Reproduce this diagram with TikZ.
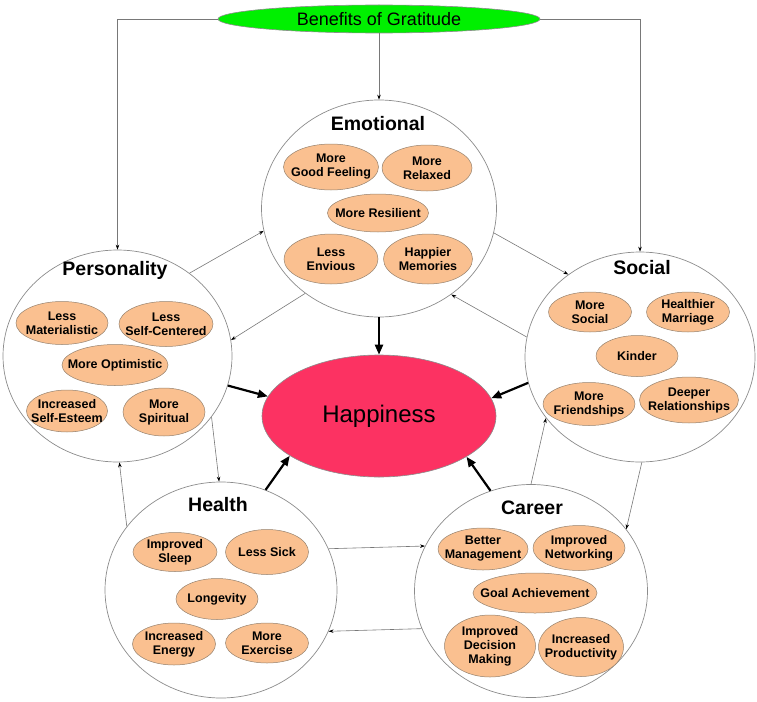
\documentclass[tikz,border=0pt]{standalone}
\usepackage{fontspec}
\setmainfont{Liberation Sans}
\usetikzlibrary{shapes.geometric,arrows.meta}
\definecolor{peach}{RGB}{250,192,144}
\definecolor{peachedge}{RGB}{150,130,110}
\definecolor{happy}{RGB}{252,50,98}
\definecolor{gratgreen}{RGB}{0,240,0}
\definecolor{edgegray}{RGB}{140,140,140}
\definecolor{linkgray}{RGB}{120,120,120}
\tikzset{
  bigshape/.style={ellipse, draw=edgegray, line width=0.7pt, fill=white, inner sep=0pt},
  subshape/.style={ellipse, draw=peachedge, line width=0.5pt, fill=peach, inner sep=0pt},
  subtext/.style={font=\fontsize{12.5}{14}\selectfont\bfseries, align=center, inner sep=0pt},
  titletext/.style={font=\fontsize{19.5}{22}\selectfont\bfseries, inner sep=0pt},
  thinlink/.style={draw=linkgray, line width=0.6pt, -{Stealth[length=5pt,width=3.5pt,color=black]}},
  thicklink/.style={draw=black, line width=2.2pt, -{Triangle[length=10pt,width=8pt]}},
}
\newcommand\subell[6]{%
  \node[subshape, minimum width=#4pt, minimum height=#5pt] (#1) at (#2,#3) {};
  \node[subtext] (#1t) at (#1) {#6};
}
\begin{document}
\begin{tikzpicture}[x=1pt,y=-1pt]
\useasboundingbox (0,0) rectangle (757,701);
% top
\node[ellipse, draw=edgegray, line width=0.6pt, fill=gratgreen, minimum width=322pt, minimum height=28pt, inner sep=0pt] (ben) at (379,19) {};
\node[font=\fontsize{18}{20}\selectfont, inner sep=0pt] (bent) at (ben) {Benefits of Gratitude};
% big circles
\node[bigshape, minimum width=235pt, minimum height=217pt] (emo) at (379,208.5) {};
\node[bigshape, minimum width=229pt, minimum height=212pt] (per) at (117.5,356) {};
\node[bigshape, minimum width=230pt, minimum height=210pt] (soc) at (640,357) {};
\node[bigshape, minimum width=232pt, minimum height=216pt] (hea) at (221,590) {};
\node[bigshape, minimum width=233pt, minimum height=213pt] (car) at (531,591) {};
% happiness
\node[ellipse, draw=edgegray, line width=0.6pt, fill=happy, minimum width=234pt, minimum height=122pt, inner sep=0pt] (hap) at (379,416) {};
\node[font=\fontsize{24}{26}\selectfont, inner sep=0pt] (hapt) at (hap) {Happiness};
% titles
\node[titletext] (emot) at (378,124) {Emotional};
\node[titletext] (pert) at (115,270) {Personality};
\node[titletext] (soct) at (642,268) {Social};
\node[titletext] (heat) at (218,505) {Health};
\node[titletext] (cart) at (532,508) {Career};
% emotional
\subell{e1}{331}{167}{95}{46}{More\\Good Feeling}
\subell{e2}{427}{168}{90}{46}{More\\Relaxed}
\subell{e3}{378}{213}{101}{38}{More Resilient}
\subell{e4}{331}{259}{94}{50}{Less\\Envious}
\subell{e5}{428}{259}{89}{50}{Happier\\Memories}
% personality
\subell{p1}{62}{323}{92}{43}{Less\\Materialistic}
\subell{p2}{166}{324}{94}{45}{Less\\Self-Centered}
\subell{p3}{115}{365}{106}{41}{More Optimistic}
\subell{p4}{67}{411}{81}{42}{Increased\\Self-Esteem}
\subell{p5}{164}{412}{82}{48}{More\\Spiritual}
% social
\subell{s1}{590}{312}{83}{40}{More\\Social}
\subell{s2}{688}{312}{83}{40}{Healthier\\Marriage}
\subell{s3}{637}{356}{82}{41}{Kinder}
\subell{s4}{589}{404}{92}{43}{More\\Friendships}
\subell{s5}{689}{400}{99}{46}{Deeper\\Relationships}
% health
\subell{h1}{175}{552}{84}{39}{Improved\\Sleep}
\subell{h2}{267}{552}{83}{45}{Less Sick}
\subell{h3}{217}{599}{82}{41}{Longevity}
\subell{h4}{174}{644}{83}{42}{Increased\\Energy}
\subell{h5}{267}{643}{83}{40}{More\\Exercise}
% career
\subell{c1}{483}{549}{90}{42}{Better\\Management}
\subell{c2}{579}{548}{92}{45}{Improved\\Networking}
\subell{c3}{535}{593}{124}{40}{Goal Achievement}
\subell{c4}{490}{646}{91}{62}{Improved\\Decision\\Making}
\subell{c5}{581}{647}{85}{59}{Increased\\Productivity}
% thin connectors
\draw[thinlink] (ben.west) -| (per.north);
\draw[thinlink] (ben.east) -| (soc.north);
\draw[thinlink] (ben.south) -- (emo.north);
\draw[thinlink] (per.49.7) -- (emo.191.5);
\draw[thinlink] (emo.229) -- (per.8.9);
\draw[thinlink] (emo.348) -- (soc.131.8);
\draw[thinlink] (soc.170.5) -- (emo.310);
\draw[thinlink] (per.327) -- (hea.91.6);
\draw[thinlink] (hea.146.7) -- (per.271);
\draw[thinlink] (car.90.5) -- (soc.213.3);
\draw[thinlink] (soc.271.6) -- (car.33.7);
\draw[thinlink] (hea.21.8) -- (car.157.7);
\draw[thinlink] (car.199.7) -- (hea.339.8);
% thick connectors
\draw[thicklink] (emo.south) -- (hap.north);
\draw[thicklink] (per.345.5) -- (hap.170.9);
\draw[thicklink] (soc.193.3) -- (hap.9);
\draw[thicklink] (hea.66.3) -- (hap.204.5);
\draw[thicklink] (car.112.2) -- (hap.335.5);
\end{tikzpicture}
\end{document}
